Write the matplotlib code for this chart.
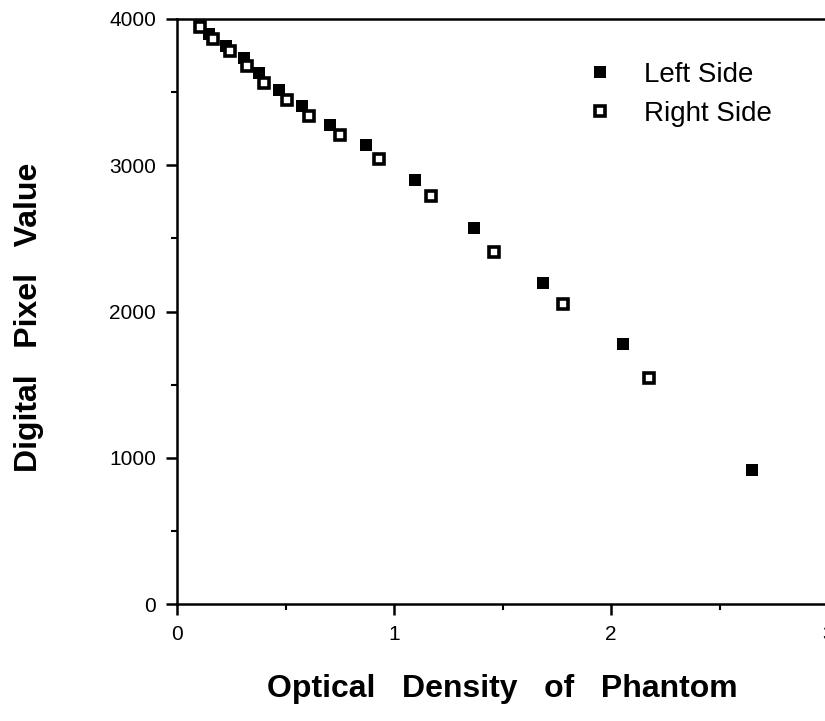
import matplotlib
matplotlib.use("Agg")
import matplotlib.pyplot as plt
from matplotlib.ticker import MultipleLocator

# optical density vs digital pixel value
left_od = [0.147, 0.226, 0.309, 0.378, 0.470, 0.576, 0.705, 0.871, 1.097, 1.369, 1.687, 2.055, 2.650]
left_px = [3897, 3815, 3733, 3631, 3515, 3405, 3275, 3138, 2899, 2571, 2195, 1778, 916]

right_od = [0.106, 0.166, 0.244, 0.323, 0.401, 0.507, 0.608, 0.751, 0.931, 1.171, 1.461, 1.779, 2.175]
right_px = [3945, 3863, 3781, 3679, 3562, 3446, 3337, 3207, 3043, 2790, 2407, 2051, 1545]

x_ticks = [0, 1, 2, 3]
y_ticks = [0, 1000, 2000, 3000, 4000]

plt.rcParams['font.family'] = ['Liberation Sans', 'DejaVu Sans']

fig = plt.figure(figsize=(8.25, 7.21), dpi=100)
ax = fig.add_axes([177/825, 117/721, 651/825, 585/721])

ax.plot(left_od, left_px, 's', color='black', ms=9, mew=0, label='Left Side')
ax.plot(right_od, right_px, 's', mfc='white', mec='black', ms=7.2, mew=2.6, label='Right Side')

ax.set_xlim(0, 3)
ax.set_ylim(0, 4000)
ax.set_xticks(x_ticks)
ax.set_yticks(y_ticks)
ax.xaxis.set_minor_locator(MultipleLocator(0.5))
ax.yaxis.set_minor_locator(MultipleLocator(500))

for s in ax.spines.values():
    s.set_linewidth(1.8)
ax.spines['right'].set_visible(False)

ax.tick_params(which='major', direction='out', length=8, width=1.8, labelsize=15, pad=7)
ax.tick_params(which='minor', direction='out', length=4, width=1.5)

ax.set_xlabel('Optical   Density   of   Phantom', fontsize=23, fontweight='bold', labelpad=22)
ax.set_ylabel('Digital   Pixel   Value', fontsize=23, fontweight='bold')
ax.yaxis.set_label_coords(-0.205, 0.49)

ax.legend(loc='upper left', bbox_to_anchor=(0.607, 0.95), frameon=False, fontsize=20,
          handlelength=1.0, handletextpad=1.1, labelspacing=0.45, borderpad=0)

fig.savefig("out.png", dpi=100)
